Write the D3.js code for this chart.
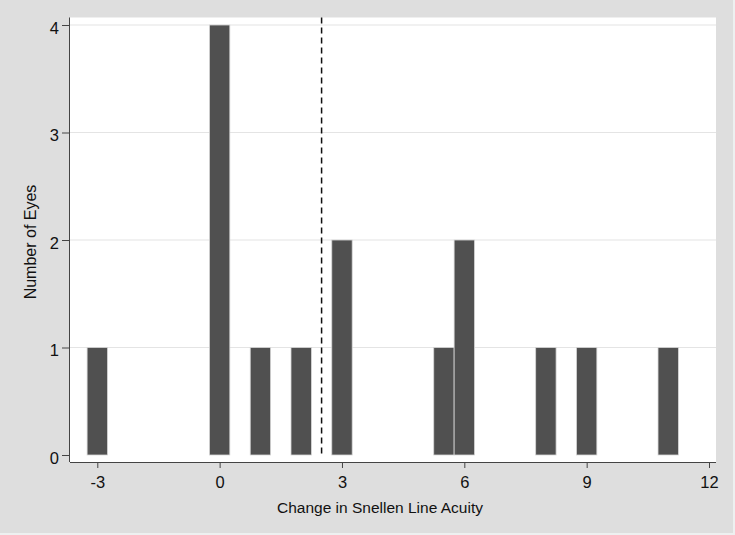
<!DOCTYPE html>
<html>
<head>
<meta charset="utf-8">
<script src="https://cdn.jsdelivr.net/npm/d3@7"></script>
<style>
  body { margin: 0; background: #eef0f0; }
  text { font-family: "Liberation Sans", Arial, sans-serif; fill: #111; }
</style>
</head>
<body>
<div id="chart"></div>
<script>
var width = 735,
    height = 535;

// change in Snellen lines (bar centres) and number of eyes
var changes = [-3, 0, 1, 2, 3, 5.5, 6, 8, 9, 11];
var eyes = [1, 4, 1, 1, 2, 1, 2, 1, 1, 1];
var xTicks = [-3, 0, 3, 6, 9, 12];
var yTicks = [0, 1, 2, 3, 4];
var cutoff = 2.5;
var binWidth = 0.5;

var svg = d3.select("#chart").append("svg")
    .attr("width", width)
    .attr("height", height);

svg.append("rect")
    .attr("width", 733).attr("height", 533)
    .attr("fill", "#dedede");

// plot region
var region = {left: 70, right: 716, top: 17.5, bottom: 462};

svg.append("rect")
    .attr("x", region.left).attr("y", region.top)
    .attr("width", region.right - region.left)
    .attr("height", region.bottom - region.top)
    .attr("fill", "#fff");

var x = d3.scaleLinear()
    .domain([-3, 12])
    .range([97.3, 709]);

var y = d3.scaleLinear()
    .domain([0, 4])
    .range([455, 25]);

// gridlines
svg.append("g")
  .selectAll("line")
  .data(yTicks.slice(1))
  .enter().append("line")
    .attr("x1", region.left).attr("x2", region.right)
    .attr("y1", function(d) { return y(d); })
    .attr("y2", function(d) { return y(d); })
    .attr("stroke", "#e4e4e4")
    .attr("stroke-width", 1.2);

// bars
svg.append("g")
  .selectAll("rect")
  .data(changes)
  .enter().append("rect")
    .attr("x", function(d) { return x(d - binWidth / 2); })
    .attr("y", function(d, i) { return y(eyes[i]); })
    .attr("width", x(binWidth) - x(0))
    .attr("height", function(d, i) { return y(0) - y(eyes[i]); })
    .attr("fill", "#505050")
    .attr("stroke", "#d6d6d6")
    .attr("stroke-width", 0.8);

// dashed reference line
svg.append("line")
    .attr("x1", x(cutoff)).attr("x2", x(cutoff))
    .attr("y1", region.top).attr("y2", y(0))
    .attr("stroke", "#111")
    .attr("stroke-width", 1.5)
    .attr("stroke-dasharray", "6,4");

var fmt = function(d) { return String(d); };

// axes
svg.append("g")
    .attr("transform", "translate(0," + region.bottom + ")")
    .call(d3.axisBottom(x).tickValues(xTicks).tickFormat(fmt).tickSize(6).tickPadding(8).tickSizeOuter(0))
    .call(function(g) {
      g.select(".domain").attr("d", "M" + region.left + ",0.5H" + region.right).attr("stroke", "#444");
      g.selectAll("text").attr("font-size", 16.5).attr("font-family", "Liberation Sans, Arial, sans-serif").attr("fill", "#000");
      g.selectAll(".tick line").attr("stroke", "#444");
    });

svg.append("g")
    .attr("transform", "translate(" + region.left + ",0)")
    .call(d3.axisLeft(y).tickValues(yTicks).tickFormat(fmt).tickSize(8).tickPadding(3).tickSizeOuter(0))
    .call(function(g) {
      g.select(".domain").attr("d", "M-0.5," + region.top + "V" + region.bottom).attr("stroke", "#444");
      g.selectAll("text").attr("font-size", 16.5).attr("dy", "0.5em").attr("font-family", "Liberation Sans, Arial, sans-serif").attr("fill", "#000");
      g.selectAll(".tick line").attr("stroke", "#444");
    });

// axis titles
svg.append("text")
    .attr("x", 380)
    .attr("y", 513)
    .attr("text-anchor", "middle")
    .attr("font-size", 15.5)
    .text("Change in Snellen Line Acuity");

svg.append("text")
    .attr("transform", "translate(36," + 242 + ") rotate(-90)")
    .attr("text-anchor", "middle")
    .attr("font-size", 16)
    .text("Number of Eyes");
</script>
</body>
</html>
